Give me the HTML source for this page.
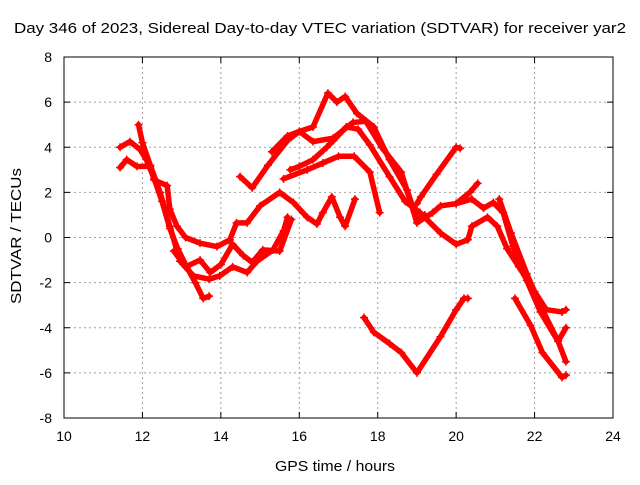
<!DOCTYPE html>
<html><head><meta charset="utf-8"><style>
body{margin:0;background:#fff}
svg text{font-family:"Liberation Sans",sans-serif;font-size:14px;fill:#000}
</style></head><body>
<svg id="c" width="640" height="480" xmlns="http://www.w3.org/2000/svg">
<rect width="640" height="480" fill="#fff"/>
<text x="14" y="33" textLength="612" lengthAdjust="spacingAndGlyphs" style="font-size:15px">Day 346 of 2023, Sidereal Day-to-day VTEC variation (SDTVAR) for receiver yar2</text>
<text x="275" y="471" textLength="120" lengthAdjust="spacingAndGlyphs" style="font-size:15px">GPS time / hours</text>
<text x="0" y="0" textLength="136" lengthAdjust="spacingAndGlyphs" style="font-size:15px" transform="translate(21 304) rotate(-90)">SDTVAR / TECUs</text>
<g id="grid"></g><g id="ticks"></g><g id="series"></g>
<rect x="64" y="57" width="549" height="361" fill="none" stroke="#000" stroke-width="1"/>
</svg>
<script>
const xTicks=[10,12,14,16,18,20,22,24];
const yTicks=[-8,-6,-4,-2,0,2,4,6,8];
const track1=[[11.43,4.0],[11.68,4.25],[11.94,3.9],[12.1,3.45],[12.3,2.6],[12.5,1.6],[12.7,0.4],[12.9,-0.5],[13.1,-1.2],[13.35,-2.0],[13.55,-2.7],[13.7,-2.6]];
const track2=[[11.43,3.1],[11.6,3.45],[11.86,3.15],[12.2,3.15],[12.3,2.55],[12.63,2.3],[12.7,1.25],[12.88,0.5],[13.1,0.0],[13.47,-0.25],[13.9,-0.4],[14.23,-0.1],[14.4,0.65],[14.67,0.65],[15.0,1.4],[15.5,2.0],[15.85,1.55],[16.2,0.9],[16.45,0.6],[16.6,1.1],[16.83,1.8],[17.04,0.9],[17.17,0.5],[17.42,1.7]];
const track3=[[11.9,5.0],[12.0,4.2],[12.2,3.2],[12.45,2.0],[12.7,0.5],[12.96,-1.05],[13.3,-1.7],[13.7,-1.85],[13.97,-1.7],[14.3,-1.3],[14.67,-1.55],[14.92,-1.05],[15.33,-0.55],[15.6,0.3],[15.7,0.9]];
const track4=[[12.8,-0.6],[13.1,-1.3],[13.47,-1.0],[13.73,-1.55],[14.0,-1.2],[14.3,-0.3],[14.57,-0.8],[14.8,-1.1],[15.07,-0.55],[15.5,-0.6],[15.8,0.8]];
const track5=[[14.49,2.7],[14.8,2.2],[15.2,3.2],[15.7,4.3],[16.0,4.7],[16.35,4.9],[16.73,6.4],[16.96,6.0],[17.17,6.25],[17.47,5.5],[17.9,4.9],[18.3,3.45],[18.75,2.1],[19.0,0.8],[19.2,1.0]];
const track6=[[19.0,1.5],[19.1,1.8],[19.5,2.8],[20.0,4.0],[20.1,3.95]];
const track7=[[15.3,3.8],[15.7,4.5],[16.0,4.7],[16.35,4.25],[16.86,4.4],[17.37,5.1],[17.7,5.15],[18.1,4.0],[18.6,2.9],[19.0,0.65],[19.4,1.1],[19.6,1.4],[20.0,1.5],[20.35,2.0],[20.55,2.4]];
const track8=[[15.77,3.0],[16.0,3.15],[16.35,3.45],[16.7,4.0],[16.87,4.3],[17.2,4.9],[17.5,4.8],[17.8,4.1],[18.3,2.7],[18.7,1.6],[19.08,1.1],[19.6,0.2],[20.0,-0.3],[20.3,-0.1],[20.4,0.5],[20.8,0.9],[21.05,0.5],[21.3,-0.5],[21.6,-1.3],[22.0,-2.4],[22.3,-3.2],[22.7,-3.3],[22.8,-3.2]];
const track9=[[15.6,2.6],[16.2,3.0],[16.6,3.3],[17.0,3.6],[17.4,3.6],[17.8,2.9],[18.05,1.1]];
const track10=[[20.0,1.5],[20.4,1.7],[20.7,1.3],[20.95,1.55],[21.2,1.1],[21.45,-0.4],[21.8,-1.9],[22.15,-3.3],[22.6,-4.6],[22.8,-5.5]];
const track11=[[21.1,1.7],[21.4,0.2],[21.8,-1.6],[22.2,-3.2],[22.6,-4.6],[22.8,-4.0]];
const track12=[[21.5,-2.7],[21.9,-3.9],[22.2,-5.1],[22.7,-6.2],[22.8,-6.1]];
const track13=[[17.65,-3.55],[17.9,-4.2],[18.3,-4.7],[18.6,-5.1],[19.0,-6.0],[19.6,-4.4],[20.0,-3.2],[20.2,-2.7],[20.3,-2.7]];
const tracks=[track1,track2,track3,track4,track5,track6,track7,track8,track9,track10,track11,track12,track13];
const NS='http://www.w3.org/2000/svg';
const X=h=>64+(h-10)*549/14;
const Y=v=>237.5-v*361/16;
const grid=document.getElementById('grid'),tk=document.getElementById('ticks'),ser=document.getElementById('series');
function mk(tag,attrs,parent){const e=document.createElementNS(NS,tag);for(const k in attrs)e.setAttribute(k,attrs[k]);parent.appendChild(e);return e;}
xTicks.forEach(t=>{
  const x=X(t);
  if(t>10&&t<24){const g=mk('line',{x1:x,x2:x,y1:57,y2:418,stroke:'#a0a0a0','stroke-dasharray':'2,3'},grid);
  
  }
  mk('line',{x1:x,x2:x,y1:418,y2:412,stroke:'#000'},tk);
  mk('line',{x1:x,x2:x,y1:57,y2:63,stroke:'#000'},tk);
  const l=mk('text',{x:x,y:441,'text-anchor':'middle'},tk);l.textContent=t;
  
  
});
yTicks.forEach(t=>{
  const y=Y(t);
  if(t>-8&&t<8){const g=mk('line',{x1:64,x2:613,y1:y,y2:y,stroke:'#a0a0a0','stroke-dasharray':'2,3'},grid);
  
  }
  mk('line',{x1:64,x2:70,y1:y,y2:y,stroke:'#000'},tk);
  mk('line',{x1:607,x2:613,y1:y,y2:y,stroke:'#000'},tk);
  const l=mk('text',{x:52,y:y+5,'text-anchor':'end'},tk);l.textContent=t;
  
  
});
tracks.forEach((tr,i)=>{
  const p=mk('polyline',{points:tr.map(d=>X(d[0])+','+Y(d[1])).join(' '),fill:'none',stroke:'#ff0000','stroke-width':5.5,'stroke-linejoin':'round','stroke-linecap':'round'},ser);
  
  
  tr.forEach(d=>{
    const m=mk('path',{d:'M'+(X(d[0])-4)+' '+Y(d[1])+'h8M'+X(d[0])+' '+(Y(d[1])-4)+'v8',stroke:'#ff0000','stroke-width':1.5},ser);
    
    
  });
});
</script>
</body></html>
